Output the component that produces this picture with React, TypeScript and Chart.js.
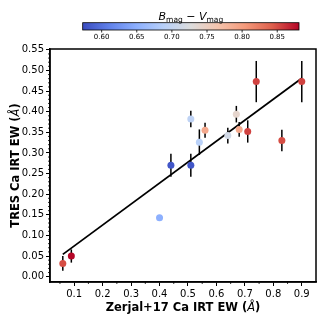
import React, { useEffect, useRef } from "react";
import { Chart, registerables } from "chart.js";
Chart.register(...registerables);

// ---- data ----
const zerjalEW = [0.06, 0.09, 0.40, 0.44, 0.51, 0.51, 0.54, 0.56, 0.64, 0.67, 0.68, 0.71, 0.74, 0.83, 0.90];
const tresEW = [0.032, 0.050, 0.143, 0.270, 0.270, 0.382, 0.326, 0.355, 0.342, 0.394, 0.357, 0.352, 0.473, 0.330, 0.473];
const tresErr = [0.018, 0.016, 0.0, 0.028, 0.028, 0.020, 0.031, 0.018, 0.019, 0.020, 0.018, 0.027, 0.050, 0.026, 0.050];
const bvColor = [0.85, 0.88, 0.65, 0.58, 0.58, 0.695, 0.69, 0.79, 0.715, 0.74, 0.79, 0.855, 0.855, 0.85, 0.855];
const fitX = [0.06, 0.90];
const fitY = [0.054, 0.481];
const xTicks = [0.1, 0.2, 0.3, 0.4, 0.5, 0.6, 0.7, 0.8, 0.9];
const yTicks = [0, 0.05, 0.1, 0.15, 0.2, 0.25, 0.3, 0.35, 0.4, 0.45, 0.5, 0.55];
const cbTicks = [0.6, 0.65, 0.7, 0.75, 0.8, 0.85];
const cbMin = 0.573;
const cbMax = 0.881;

const coolwarmStops: [number, number[]][] = [
  [0.0, [58, 76, 192]],
  [0.125, [97, 130, 234]],
  [0.25, [141, 176, 254]],
  [0.375, [184, 208, 249]],
  [0.5, [221, 221, 221]],
  [0.625, [245, 196, 173]],
  [0.75, [244, 154, 123]],
  [0.875, [222, 96, 77]],
  [1.0, [180, 4, 38]],
];
function coolwarm(t: number) {
  t = Math.max(0, Math.min(1, t));
  for (let i = 1; i < coolwarmStops.length; i++) {
    const [t1, c1] = coolwarmStops[i];
    const [t0, c0] = coolwarmStops[i - 1];
    if (t <= t1) {
      const f = (t - t0) / (t1 - t0);
      const c = c0.map((v, k) => Math.round(v + (c1[k] - v) * f));
      return `rgb(${c[0]},${c[1]},${c[2]})`;
    }
  }
  return "rgb(180,4,38)";
}
const normBV = (v: number) => (v - cbMin) / (cbMax - cbMin);

const FONT = "DejaVu Sans";

function drawParts(ctx: CanvasRenderingContext2D, parts: { t: string; f: string; dy?: number }[], x: number, y: number) {
  let total = 0;
  for (const p of parts) { ctx.font = p.f; total += ctx.measureText(p.t).width; }
  let cx = x - total / 2;
  ctx.textAlign = "left";
  for (const p of parts) {
    ctx.font = p.f;
    ctx.fillText(p.t, cx, y + (p.dy || 0));
    cx += ctx.measureText(p.t).width;
  }
}

const decorPlugin = {
  id: "decor",
  beforeDatasetsDraw(chart: any) {
    const ctx = chart.ctx;
    const xs = chart.scales.x, ys = chart.scales.y;
    ctx.save();
    ctx.strokeStyle = "#000";
    ctx.lineWidth = 1.5;
    for (let i = 0; i < zerjalEW.length; i++) {
      if (!tresErr[i]) continue;
      const px = xs.getPixelForValue(zerjalEW[i]);
      ctx.beginPath();
      ctx.moveTo(px, ys.getPixelForValue(tresEW[i] - tresErr[i]));
      ctx.lineTo(px, ys.getPixelForValue(tresEW[i] + tresErr[i]));
      ctx.stroke();
    }
    ctx.restore();
  },
  afterDraw(chart: any) {
    const ctx = chart.ctx;
    const a = chart.chartArea;
    const xs = chart.scales.x, ys = chart.scales.y;
    ctx.save();
    // frame
    ctx.strokeStyle = "#000";
    ctx.lineWidth = 1.5;
    ctx.strokeRect(a.left, a.top, a.right - a.left, a.bottom - a.top);
    // minor ticks
    ctx.lineWidth = 0.8;
    for (let k = 1; k < 20; k++) {
      const v = k * 0.05;
      if (k % 2 === 0) continue;
      const px = xs.getPixelForValue(v);
      if (px < a.left || px > a.right) continue;
      ctx.beginPath(); ctx.moveTo(px, a.bottom); ctx.lineTo(px, a.bottom + 2); ctx.stroke();
    }
    for (let k = 0; k <= 56; k++) {
      if (k % 5 === 0) continue;
      const v = k * 0.01;
      const py = ys.getPixelForValue(v);
      if (py < a.top || py > a.bottom) continue;
      ctx.beginPath(); ctx.moveTo(a.left, py); ctx.lineTo(a.left - 2, py); ctx.stroke();
    }
    // axis titles
    ctx.fillStyle = "#000";
    ctx.textBaseline = "alphabetic";
    const bold = `bold 11.5px ${FONT}`;
    const ital = `italic 11.5px ${FONT}`;
    drawParts(ctx, [
      { t: "Zerjal+17 Ca IRT EW (", f: bold },
      { t: "Å", f: ital },
      { t: ")", f: bold },
    ], (a.left + a.right) / 2, 311);
    ctx.save();
    ctx.translate(19, (a.top + a.bottom) / 2);
    ctx.rotate(-Math.PI / 2);
    drawParts(ctx, [
      { t: "TRES Ca IRT EW (", f: bold },
      { t: "Å", f: ital },
      { t: ")", f: bold },
    ], 0, 0);
    ctx.restore();
    // colorbar
    const cbL = 82.7, cbR = 299, cbT = 22.7, cbB = 30;
    const grad = ctx.createLinearGradient(cbL, 0, cbR, 0);
    for (const [t, c] of coolwarmStops) grad.addColorStop(t, `rgb(${c[0]},${c[1]},${c[2]})`);
    ctx.fillStyle = grad;
    ctx.fillRect(cbL, cbT, cbR - cbL, cbB - cbT);
    ctx.lineWidth = 0.8;
    ctx.strokeStyle = "#000";
    ctx.strokeRect(cbL, cbT, cbR - cbL, cbB - cbT);
    ctx.fillStyle = "#000";
    ctx.font = `7px ${FONT}`;
    ctx.textAlign = "center";
    ctx.textBaseline = "top";
    for (const v of cbTicks) {
      const px = cbL + (cbR - cbL) * normBV(v);
      ctx.beginPath(); ctx.moveTo(px, cbB); ctx.lineTo(px, cbB + 2.5); ctx.stroke();
      ctx.fillText(v.toFixed(2), px, cbB + 4);
    }
    ctx.textBaseline = "alphabetic";
    const it = `italic 11px ${FONT}`;
    const sub = `7.5px ${FONT}`;
    const rm = `11px ${FONT}`;
    drawParts(ctx, [
      { t: "B", f: it },
      { t: "mag", f: sub, dy: 2.5 },
      { t: " − ", f: rm },
      { t: "V", f: it },
      { t: "mag", f: sub, dy: 2.5 },
    ], (cbL + cbR) / 2, 19.5);
    ctx.restore();
  },
};

export default function App() {
  const ref = useRef<HTMLCanvasElement>(null);
  useEffect(() => {
    document.body.style.margin = "0";
    Chart.defaults.font.family = FONT;
    const chart = new Chart(ref.current!, {
      type: "scatter",
      data: {
        datasets: [
          {
            type: "scatter",
            data: zerjalEW.map((x, i) => ({ x, y: tresEW[i] })),
            pointRadius: 3.5,
            pointBorderWidth: 0,
            pointBackgroundColor: bvColor.map((v) => coolwarm(normBV(v))),
            pointBorderColor: bvColor.map((v) => coolwarm(normBV(v))),
          } as any,
          {
            type: "line",
            data: fitX.map((x, i) => ({ x, y: fitY[i] })),
            borderColor: "#000",
            borderWidth: 1.8,
            pointRadius: 0,
            showLine: true,
            fill: false,
          } as any,
        ],
      },
      options: {
        responsive: false,
        animation: false,
        devicePixelRatio: 1,
        layout: { padding: { left: 0, top: 49, right: 16, bottom: 0 } },
        plugins: { legend: { display: false }, tooltip: { enabled: false } },
        scales: {
          x: {
            type: "linear",
            min: 0.015,
            max: 0.95,
            afterBuildTicks: (s: any) => { s.ticks = xTicks.map((v) => ({ value: v })); },
            afterFit: (s: any) => { s.height = 50; },
            grid: { drawOnChartArea: false, drawTicks: true, tickLength: 4, color: "#000", lineWidth: 1 },
            border: { display: true, color: "#000", width: 1.5 },
            ticks: { font: { family: FONT, size: 10 }, color: "#000", padding: 2, maxRotation: 0, callback: (v: any) => Number(v).toFixed(1) },
          },
          y: {
            type: "linear",
            min: -0.013,
            max: 0.552,
            afterBuildTicks: (s: any) => { s.ticks = yTicks.map((v) => ({ value: v })); },
            afterFit: (s: any) => { s.width = 50; },
            grid: { drawOnChartArea: false, drawTicks: true, tickLength: 4, color: "#000", lineWidth: 1 },
            border: { display: true, color: "#000", width: 1.5 },
            ticks: { font: { family: FONT, size: 10 }, color: "#000", padding: 2, callback: (v: any) => Number(v).toFixed(2) },
          },
        },
      } as any,
      plugins: [decorPlugin],
    });
    return () => chart.destroy();
  }, []);
  return <canvas ref={ref} width={332} height={332} style={{ display: "block" }} />;
}
